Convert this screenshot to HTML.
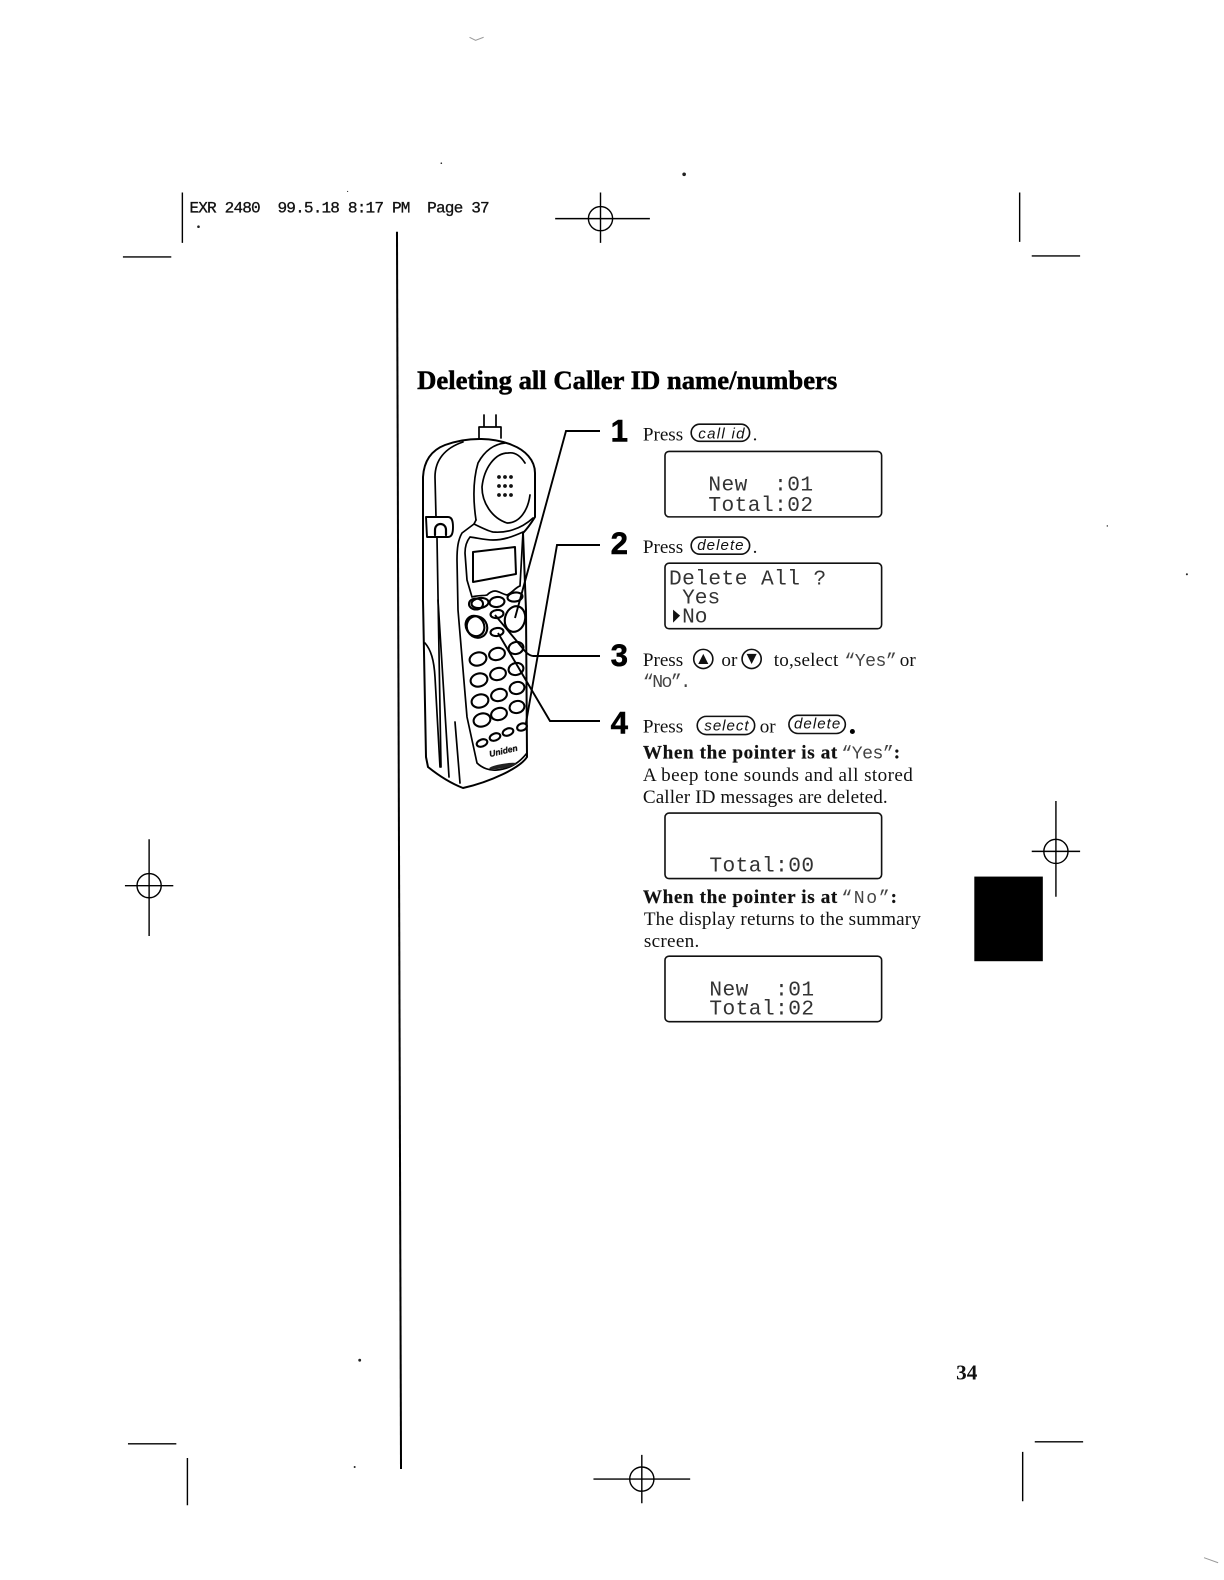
<!DOCTYPE html>
<html><head><meta charset="utf-8"><style>
html,body{margin:0;padding:0;background:#fff}
svg{display:block}
.s{font-family:"Liberation Serif",serif;font-size:19px;fill:#111}
.b{font-weight:bold;stroke:#111;stroke-width:.2}
.m{font-family:"Liberation Mono",monospace;fill:#333;font-size:21px}
.q{font-family:"Liberation Mono",monospace;fill:#444;font-size:18px}
.n{font-family:"Liberation Sans",sans-serif;font-weight:bold;font-size:31px;fill:#000;stroke:#000;stroke-width:.5}
.k{font-family:"Liberation Sans",sans-serif;font-style:italic;font-size:15px;fill:#111}
.l{fill:none;stroke:#000;stroke-width:1.4}
.t{fill:none;stroke:#111;stroke-width:1.6}
.p{fill:none;stroke:#000;stroke-width:1.7;stroke-linecap:round;stroke-linejoin:round}
.u{fill:none;stroke:#000;stroke-width:2.1}
</style></head><body>
<svg width="1224" height="1580" viewBox="0 0 1224 1580" xmlns="http://www.w3.org/2000/svg">
<rect width="1224" height="1580" fill="#fff"/>
<g transform="scale(1.00756)">
<!-- crop marks -->
<g class="l">
<path d="M181 191V241M122 255H170"/>
<path d="M1012 191V240M1024 254H1072M551 217H645M596 191V241"/>
<circle cx="596" cy="217" r="12"/>
<path d="M148 833V929M124 879H172"/><circle cx="148" cy="879" r="12"/>
<path d="M1048 795V890M1024 845H1072"/><circle cx="1048" cy="845" r="12"/>
<path d="M127 1433H175M186 1447V1494M1015 1441V1490M1027 1431H1075"/>
<path d="M589 1468H685M637 1444V1492"/><circle cx="637" cy="1468" r="12"/>
</g>
<path d="M394 230L398 1458" fill="none" stroke="#000" stroke-width="2"/>
<rect x="967" y="870" width="68" height="84" fill="#000"/>
<!-- specks -->
<g fill="#222"><circle cx="679" cy="173" r="1.8"/><circle cx="357" cy="1350" r="1.4"/><circle cx="197" cy="225" r="1.3"/><circle cx="438" cy="162" r="0.8"/><circle cx="1178" cy="570" r="1"/><circle cx="1099" cy="522" r="0.7"/><circle cx="352" cy="1456" r="1"/><circle cx="345" cy="190" r="0.6"/></g>
<path d="M466 37l6 3 8-3M1195 1546l14 5" fill="none" stroke="#999" stroke-width="1"/>
<!-- header -->
<text x="188" y="211" font-family="Liberation Mono,monospace" font-size="16" fill="#111" stroke="#111" stroke-width=".3" textLength="298" xml:space="preserve">EXR 2480  99.5.18 8:17 PM  Page 37</text>
<!-- title -->
<text x="414" y="386" font-family="Liberation Serif,serif" font-weight="bold" font-size="26.5" fill="#000" stroke="#000" stroke-width=".5" textLength="417">Deleting all Caller ID name/numbers</text>
<text class="n" x="606" y="438">1</text><text class="n" x="606" y="550">2</text><text class="n" x="606" y="661">3</text><text class="n" x="606" y="728">4</text>
<!-- step 1 -->
<text class="s" x="638" y="437">Press</text>
<rect x="686" y="421" width="58" height="17" rx="8.5" class="t"/><text class="k" x="693" y="435" textLength="46">call id</text>
<text class="s" x="747" y="437">.</text>
<rect x="660" y="448" width="215" height="65" rx="4" class="t"/>
<text class="m" x="703" y="487" xml:space="preserve" textLength="104">New  :01</text>
<text class="m" x="703" y="507" textLength="104">Total:02</text>
<!-- step 2 -->
<text class="s" x="638" y="549">Press</text>
<rect x="686" y="533" width="58" height="17" rx="8.5" class="t"/><text class="k" x="692" y="546" textLength="46">delete</text>
<text class="s" x="747" y="549">.</text>
<rect x="660" y="559" width="215" height="65" rx="4" class="t"/>
<text class="m" x="664" y="580" xml:space="preserve" textLength="156">Delete All ?</text>
<text class="m" x="677" y="599">Yes</text>
<path d="M668 605L675 611L668 618Z" fill="#111"/>
<text class="m" x="677" y="618">No</text>
<!-- step 3 -->
<text class="s" x="638" y="661">Press</text>
<circle cx="698" cy="654" r="9.5" class="t"/><path d="M698 649L703 659H693Z" fill="#111"/>
<text class="s" x="716" y="661">or</text>
<circle cx="746" cy="654" r="9.5" class="t"/><path d="M746 659L751 649H741Z" fill="#111"/>
<text class="s" x="768" y="661" textLength="64">to,select</text>
<text class="q" x="838" y="661" textLength="52">“Yes”</text><text class="s" x="893" y="661">or</text>
<text class="q" x="638" y="682" textLength="48">“No”.</text>
<!-- step 4 -->
<text class="s" x="638" y="727">Press</text>
<rect x="692" y="711" width="57" height="18" rx="9" class="t"/><text class="k" x="699" y="725" textLength="44">select</text>
<text class="s" x="754" y="727">or</text>
<rect x="783" y="710" width="56" height="18" rx="9" class="t"/><text class="k" x="788" y="723" textLength="46">delete</text>
<circle cx="846" cy="726" r="2.5" fill="#000"/>
<text class="s b" x="638" y="753" textLength="193">When the pointer is at</text>
<text class="q" x="835" y="753" textLength="52">“Yes”</text><text class="s b" x="887" y="753">:</text>
<text class="s" x="638" y="775" textLength="268">A beep tone sounds and all stored</text>
<text class="s" x="638" y="797" textLength="243">Caller ID messages are deleted.</text>
<rect x="660" y="807" width="215" height="65" rx="4" class="t"/>
<text class="m" x="704" y="865" textLength="104">Total:00</text>
<text class="s b" x="638" y="896" textLength="193">When the pointer is at</text>
<text class="q" x="835" y="896" textLength="48">“No”</text><text class="s b" x="884" y="896">:</text>
<text class="s" x="639" y="918" textLength="275">The display returns to the summary</text>
<text class="s" x="639" y="940" textLength="55">screen.</text>
<rect x="660" y="949" width="215" height="65" rx="4" class="t"/>
<text class="m" x="704" y="988" xml:space="preserve" textLength="104">New  :01</text>
<text class="m" x="704" y="1007" textLength="104">Total:02</text>
<text x="949" y="1369" font-family="Liberation Serif,serif" font-weight="bold" font-size="21" fill="#111">34</text>
</g>
<!-- phone in true coordinates -->
<g class="p">
<path d="M484 415V427M496 415V427M479 438V427H501V438"/>
<path d="M423 477C424 460 432 450 445 445C470 436 495 438 512 445C525 450 535 460 535 473V517C530 525 527 529 523 533L526 610L527 757C520 768 490 782 463 788C450 783 438 775 428 767L426 757L423 600Z" stroke-width="2"/>
<path d="M463 442C445 448 435 460 435 477L436 517M437 538L441 767"/>
<path d="M425 643C431 650 434 660 435 677L440 767M438 600L449 777M455 722L460 783"/>
<path d="M426 517H448C452 517 453 521 453 527C453 533 452 537 448 537H427Z" stroke-width="1.9"/>
<path d="M435 535V530C435 522 446 522 446 530V535" stroke-width="2.2"/>
<path d="M476 520C473 500 473 480 478 463C485 450 495 444 505 443"/>
<path d="M525 463C520 455 514 452 508 453C495 453 484 468 482 487C482 503 492 518 507 523C520 523 528 510 530 495"/>
<path d="M476 520L474 524C480 527 488 531 493 532C505 533 520 530 533 518"/>
<path d="M474 524L462 533C458 540 457 548 457 560L458 610L467 717L477 763C482 768 490 771 497 770C510 769 520 762 527 753"/>
<path d="M470 537C466 542 465 548 465 553L467 580L472 597C478 595 484 596 487 595C490 592 492 591 495 591C499 591 502 594 507 595C512 593 516 587 520 586L523 532C512 537 503 540 493 540C485 540 478 538 470 537Z"/>
<path d="M473 552L515 547L516 574L473 582Z" stroke-width="2"/>
</g>
<g fill="#111"><circle cx="499" cy="477" r="1.9"/><circle cx="505" cy="477" r="1.9"/><circle cx="511" cy="477" r="1.9"/><circle cx="499" cy="486" r="1.9"/><circle cx="505" cy="486" r="1.9"/><circle cx="511" cy="486" r="1.9"/><circle cx="499" cy="495" r="1.9"/><circle cx="505" cy="495" r="1.9"/><circle cx="511" cy="495" r="1.9"/></g>
<g class="u">
<ellipse cx="480" cy="603" rx="8.5" ry="5" transform="rotate(-8 480 603)"/><ellipse cx="476" cy="604" rx="7" ry="5.5"/>
<ellipse cx="497" cy="602" rx="7.5" ry="5" transform="rotate(-8 497 602)"/><ellipse cx="515" cy="597" rx="7.5" ry="4.5" transform="rotate(-8 515 597)"/>
<ellipse cx="497" cy="614" rx="6.5" ry="4" transform="rotate(-8 497 614)"/><ellipse cx="497" cy="632" rx="6.5" ry="4" transform="rotate(-8 497 632)"/>
<ellipse cx="477" cy="627" rx="10" ry="11" transform="rotate(-30 477 627)"/><ellipse cx="475" cy="626" rx="9" ry="10.5" transform="rotate(-30 475 626)"/>
<ellipse cx="515" cy="619" rx="10" ry="13" transform="rotate(15 515 619)"/>
<ellipse cx="478" cy="659" rx="8.5" ry="6.5" transform="rotate(-15 478 659)"/><ellipse cx="497" cy="654" rx="8" ry="6" transform="rotate(-15 497 654)"/><ellipse cx="516" cy="648" rx="7.5" ry="6" transform="rotate(-15 516 648)"/>
<ellipse cx="479" cy="680" rx="8.5" ry="6.5" transform="rotate(-15 479 680)"/><ellipse cx="498" cy="674" rx="8" ry="6" transform="rotate(-15 498 674)"/><ellipse cx="516" cy="669" rx="7.5" ry="6" transform="rotate(-15 516 669)"/>
<ellipse cx="480" cy="701" rx="8.5" ry="6.5" transform="rotate(-15 480 701)"/><ellipse cx="499" cy="695" rx="8" ry="6" transform="rotate(-15 499 695)"/><ellipse cx="517" cy="688" rx="7.5" ry="6" transform="rotate(-15 517 688)"/>
<ellipse cx="482" cy="720" rx="8.5" ry="6.5" transform="rotate(-15 482 720)"/><ellipse cx="499" cy="714" rx="8" ry="6" transform="rotate(-15 499 714)"/><ellipse cx="517" cy="707" rx="7.5" ry="6" transform="rotate(-15 517 707)"/>
<ellipse cx="482" cy="743" rx="5.5" ry="3.5" transform="rotate(-20 482 743)"/><ellipse cx="495" cy="737" rx="5.5" ry="3.5" transform="rotate(-20 495 737)"/><ellipse cx="508" cy="732" rx="5.5" ry="3.5" transform="rotate(-20 508 732)"/><ellipse cx="522" cy="727" rx="5" ry="3.5" transform="rotate(-20 522 727)"/>
</g>
<text transform="translate(490 757) rotate(-13)" font-family="Liberation Sans,sans-serif" font-weight="bold" font-style="italic" font-size="8.5" fill="#111" stroke="#111" stroke-width=".3">Uniden</text>
<ellipse cx="503" cy="766" rx="14" ry="2.2" transform="rotate(-10 503 766)" fill="#222"/>
<!-- leaders -->
<g fill="none" stroke="#000" stroke-width="1.9">
<path d="M600 431H566L515 618"/>
<path d="M600 545H557L526 723"/>
<path d="M600 656H533C527 655 524 650 520 645L495 615"/>
<path d="M600 721H550L498 633"/>
</g>
</svg>
</body></html>
